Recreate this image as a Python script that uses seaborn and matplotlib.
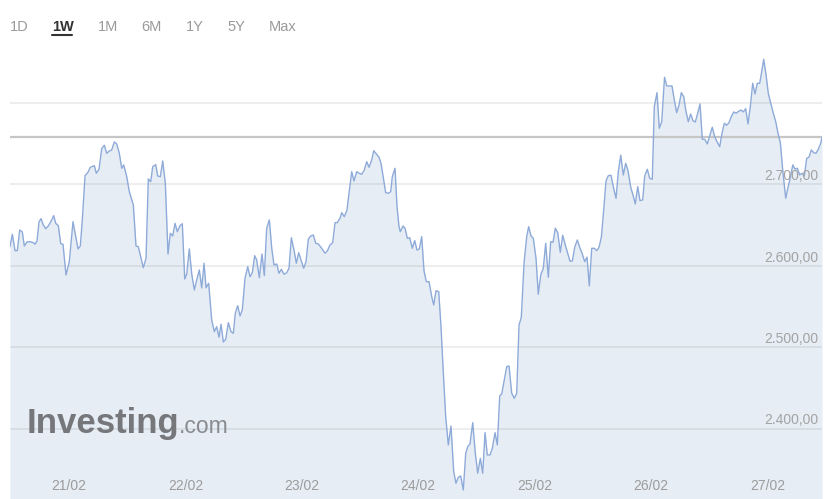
import pandas as pd
import numpy as np
import seaborn as sns
import matplotlib.pyplot as plt
import matplotlib.dates as mdates
from matplotlib.lines import Line2D
from matplotlib.transforms import blended_transform_factory

# hours relative to 21/02 00:00 and price
hours = [
    -12.17, -11.69, -11.13, -10.66, -10.17, -9.63, -9.22, -8.66, -8.04, -7.36,
    -7.01, -6.60, -6.19, -5.77, -5.30, -4.80, -4.27, -3.57, -3.15, -2.74,
    -2.21, -1.71, -1.24, -0.62, 0.06, 0.82, 1.38, 1.86, 2.33, 2.74,
    3.30, 3.86, 4.39, 5.22, 5.63, 6.19, 6.74, 7.28, 7.77, 8.25,
    8.80, 9.34, 9.84, 10.37, 10.87, 11.28, 11.90, 12.43, 13.26, 13.81,
    14.29, 15.32, 15.88, 16.35, 16.85, 17.26, 17.88, 18.29, 18.83, 19.32,
    19.86, 20.41, 20.89, 21.38, 21.86, 22.33, 22.89, 23.36, 23.86, 24.27,
    24.80, 25.30, 25.84, 26.33, 26.87, 27.36, 27.84, 28.25, 28.80, 29.42,
    29.96, 30.45, 30.93, 31.34, 31.82, 32.31, 32.85, 33.40, 33.88, 34.29,
    34.78, 35.26, 35.73, 36.29, 36.85, 37.32, 37.79, 38.29, 38.70, 39.24,
    39.79, 40.27, 40.76, 41.30, 41.80, 42.27, 42.83, 43.30, 43.78, 44.33,
    44.89, 45.36, 45.84, 46.39, 46.87, 47.36, 47.90, 48.39, 48.87, 49.34,
    49.84, 50.37, 50.87, 51.40, 52.10, 52.78, 53.26, 53.81, 54.37, 54.85,
    55.32, 55.88, 56.23, 56.77, 57.32, 57.73, 58.29, 58.76, 59.32, 59.79,
    60.35, 60.89, 61.38, 61.86, 62.41, 62.83, 63.36, 63.92, 64.33, 64.89,
    65.30, 65.84, 66.33, 66.66, 67.22, 67.63, 68.04, 68.31, 68.87, 69.28,
    69.75, 70.25, 70.78, 71.28, 71.75, 72.23, 72.72, 73.20, 73.67, 74.23,
    74.79, 75.20, 75.67, 76.23, 76.70, 77.18, 77.67, 78.21, 78.76, 79.32,
    79.79, 80.27, 80.76, 81.30, 81.80, 82.21, 82.68, 83.24, 83.78, 84.27,
    84.81, 85.30, 85.78, 86.25, 86.81, 87.28, 87.84, 88.31, 88.81, 89.22,
    90.25, 90.73, 91.28, 91.82, 92.31, 92.79, 93.26, 93.82, 94.37, 94.78,
    95.26, 95.73, 96.29, 96.76, 97.26, 97.79, 98.29, 98.83, 99.32, 99.80,
    100.27, 100.77, 101.30, 101.80, 102.33, 102.83, 103.30, 103.78, 104.27, 104.81,
    105.30, 105.84, 106.33, 106.81, 107.28, 107.78, 108.31, 108.81, 109.28, 109.76,
    110.25, 110.72, 111.20, 111.75, 112.23, 112.79, 113.26, 113.76, 114.29, 114.79,
    115.26, 115.82, 116.29, 116.77, 117.26, 117.73, 118.29, 118.70, 119.24, 119.73,
    120.27, 120.68, 121.24, 121.71, 122.21, 122.79, 123.26, 124.33, 124.75, 125.30,
    125.78, 126.25, 126.75, 127.22, 127.70, 128.17, 128.66, 129.14, 129.63, 130.11,
    130.58, 131.07, 131.61, 132.10, 132.64, 133.14, 133.61, 134.17, 134.64, 135.12,
    135.61, 136.08, 136.56, 137.06, 137.53, 138.09, 138.56, 139.04, 139.53, 140.00,
    140.48, 140.97, 141.45, 141.92, 142.42, 142.89, 143.24, 143.72, 144.19, 144.69,
    145.22, 145.72, 146.19, 146.67, 147.16, 147.78, 148.26, 148.81, 149.23, 149.70,
    150.17, 150.67, 151.14, 151.61, 152.11, 152.57, 153.05, 153.55, 154.02, 154.50,
    154.99, 155.26,
]

prices = [
    2623.6, 2638.8, 2618.7, 2618.7, 2644.1, 2641.6, 2624.4, 2629.4, 2629.7, 2628.5,
    2626.5, 2630.6, 2653.9, 2658.0, 2650.2, 2645.7, 2649.0, 2656.4, 2661.7, 2652.3,
    2649.4, 2627.3, 2626.5, 2588.8, 2605.2, 2654.3, 2635.9, 2620.8, 2624.4, 2656.4,
    2710.8, 2714.5, 2721.1, 2723.1, 2713.8, 2718.7, 2744.0, 2748.2, 2738.3, 2740.8,
    2742.4, 2752.2, 2749.8, 2738.3, 2719.9, 2724.0, 2709.6, 2691.2, 2674.8, 2624.4,
    2623.6, 2597.8, 2609.3, 2706.8, 2703.4, 2721.9, 2724.3, 2710.4, 2709.6, 2728.9,
    2701.5, 2614.6, 2640.0, 2636.7, 2652.3, 2642.0, 2649.4, 2651.8, 2583.9, 2590.0,
    2620.8, 2590.0, 2570.4, 2582.7, 2595.0, 2572.9, 2603.2, 2573.2, 2578.6, 2533.5,
    2519.2, 2525.3, 2512.3, 2528.3, 2506.5, 2509.8, 2530.2, 2519.2, 2517.2, 2541.8,
    2551.1, 2538.5, 2545.8, 2584.8, 2599.0, 2586.7, 2591.6, 2612.5, 2607.2, 2585.5,
    2614.6, 2588.0, 2646.2, 2656.4, 2621.6, 2601.1, 2602.3, 2590.9, 2595.8, 2589.7,
    2591.6, 2597.1, 2634.6, 2619.5, 2603.2, 2616.2, 2606.0, 2597.1, 2605.2, 2632.7,
    2636.7, 2638.0, 2627.8, 2626.9, 2621.6, 2615.5, 2618.3, 2625.7, 2628.5, 2653.1,
    2653.1, 2658.5, 2665.4, 2660.4, 2668.7, 2689.2, 2715.7, 2704.3, 2715.7, 2713.8,
    2712.5, 2717.8, 2728.0, 2721.1, 2730.1, 2741.5, 2737.5, 2733.4, 2726.0, 2705.5,
    2689.9, 2689.2, 2691.2, 2709.6, 2719.9, 2672.7, 2648.2, 2642.0, 2649.0, 2646.2,
    2633.9, 2634.6, 2621.6, 2631.0, 2619.5, 2620.8, 2635.9, 2593.7, 2580.6, 2580.6,
    2562.2, 2552.0, 2569.5, 2568.3, 2525.3, 2468.1, 2414.7, 2380.0, 2403.3, 2347.2,
    2332.9, 2340.3, 2341.9, 2324.7, 2369.8, 2377.9, 2381.2, 2407.4, 2369.8, 2345.2,
    2363.6, 2345.2, 2395.1, 2367.7, 2367.7, 2375.9, 2395.1, 2380.0, 2440.2, 2442.6,
    2476.2, 2477.0, 2443.5, 2437.3, 2443.5, 2527.4, 2536.9, 2603.2, 2635.9, 2648.2,
    2636.7, 2633.9, 2609.3, 2565.1, 2588.8, 2597.1, 2627.8, 2586.0, 2629.7, 2629.0,
    2646.2, 2640.8, 2616.7, 2637.6, 2625.7, 2615.5, 2605.7, 2606.0, 2622.8, 2631.8,
    2622.8, 2614.6, 2605.2, 2610.6, 2575.3, 2621.6, 2621.6, 2618.7, 2622.8, 2635.1,
    2668.7, 2704.3, 2710.8, 2711.3, 2697.3, 2683.0, 2715.7, 2735.9, 2711.7, 2726.0,
    2717.0, 2696.6, 2687.1, 2676.0, 2697.3, 2680.1, 2681.0, 2710.4, 2718.7, 2707.6,
    2706.4, 2795.6, 2812.8, 2769.0, 2777.1, 2831.7, 2821.0, 2821.0, 2805.9, 2788.2,
    2797.7, 2812.8, 2807.9, 2789.4, 2777.1, 2786.6, 2778.4, 2776.8, 2787.5, 2798.9,
    2755.5, 2755.5, 2749.8, 2759.6, 2770.3, 2758.7, 2752.6, 2746.4, 2762.9, 2775.2,
    2772.7, 2775.9, 2783.3, 2789.1, 2787.5, 2789.9, 2791.5, 2789.1, 2793.1, 2774.3,
    2795.6, 2824.3, 2811.2, 2824.3, 2824.3, 2840.7, 2853.8, 2834.5, 2812.0, 2799.8,
    2787.5, 2777.1, 2762.9, 2751.4, 2717.8, 2683.0, 2696.6, 2710.4, 2724.0, 2719.0,
    2719.9, 2711.7, 2713.8, 2710.4, 2732.2, 2733.4, 2742.4, 2739.1, 2738.3, 2743.2,
    2750.6, 2758.0,
]

grid_levels = [2400, 2500, 2600, 2700, 2800]
label_levels = [2400, 2500, 2600, 2700]
day_labels = ['21/02', '22/02', '23/02', '24/02', '25/02', '26/02', '27/02']
tabs = ['1D', '1W', '1M', '6M', '1Y', '5Y', 'Max']
active_tab = '1W'

base = pd.Timestamp('2025-02-21')
df = pd.DataFrame({
    'time': base + pd.to_timedelta(hours, unit='h'),
    'price': prices,
})

sns.set_style('white')
plt.rcParams['font.family'] = ['Liberation Sans', 'DejaVu Sans']

fig = plt.figure(figsize=(8.31, 4.99), dpi=100)
ax = fig.add_axes([10 / 831, 0, 812 / 831, 449 / 499])

ax.fill_between(df['time'], df['price'], 2300, color='#e6edf4', lw=0, zorder=1)
for lv in grid_levels:
    ax.axhline(lv, color='#000000', alpha=0.08, lw=1.2, zorder=1.5)
ax.axhline(prices[-1], color='#c6c6c6', lw=1.6, zorder=1.6)
sns.lineplot(data=df, x='time', y='price', color='#8eaad9', lw=1.0, ax=ax, zorder=2)

ax.set_xlim(df['time'].iloc[0], df['time'].iloc[-1])
ax.set_ylim(2313.6, 2865.2)
ax.set_xlabel('')
ax.set_ylabel('')
ax.set_xticks([])
ax.set_yticks([])
for s in ax.spines.values():
    s.set_visible(False)

# price labels sitting on gridlines, inside the plot
tr = blended_transform_factory(ax.transAxes, ax.transData)
for lv in label_levels:
    txt = '{:,.2f}'.format(lv).replace(',', 'X').replace('.', ',').replace('X', '.')
    ax.text(0.996, lv + 1.5, txt, transform=tr, ha='right', va='bottom',
            fontsize=10, color='#a3a3a3', zorder=3)

# date labels inside the bottom of the plot
trx = blended_transform_factory(ax.transData, ax.transAxes)
for i, lab in enumerate(day_labels):
    d = mdates.date2num(base + pd.Timedelta(days=i))
    ax.text(d, 13 / 449, lab, transform=trx, ha='center', va='center',
            fontsize=10, color='#9c9c9c', zorder=3)

# range tabs
tab_x = [10, 52, 98, 141, 186, 227, 269]
for lab, x in zip(tabs, tab_x):
    if lab == active_tab:
        fig.text(x / 831, 1 - 27 / 499, lab, ha='left', va='center',
                 fontsize=10.5, fontweight='bold', color='#333333')
        fig.add_artist(Line2D([x / 831, (x + 20) / 831], [1 - 35 / 499, 1 - 35 / 499],
                              color='#333333', lw=1.5))
    else:
        fig.text(x / 831, 1 - 27 / 499, lab, ha='left', va='center',
                 fontsize=10.5, color='#9a9a9a')

# watermark logo
fig.text(27 / 831, 1 - 433 / 499, 'Investing', ha='left', va='baseline',
         fontsize=25, fontweight='bold', color='#75777b', zorder=4)
fig.text(179 / 831, 1 - 433 / 499, '.com', ha='left', va='baseline',
         fontsize=16.5, color='#898b8f', zorder=4)

fig.savefig('out.png', dpi=100)
